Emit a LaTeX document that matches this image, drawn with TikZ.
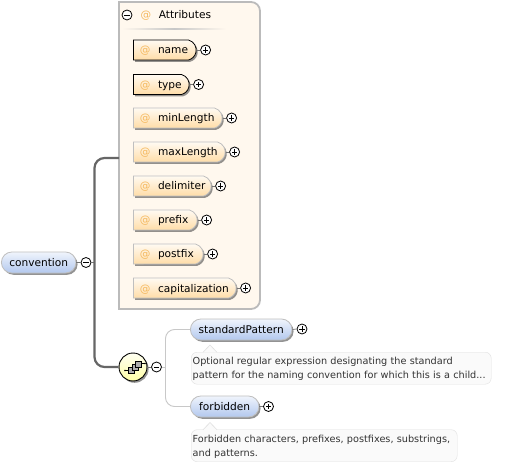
\documentclass[tikz,border=0pt]{standalone}
\usepackage{fontspec}
\setmainfont{DejaVu Sans}
\usetikzlibrary{shapes.misc,shadows,calc}
\definecolor{atcol}{HTML}{F5B95F}
\definecolor{panelfill}{HTML}{FFF8EE}
\definecolor{panelline}{HTML}{BBBBBB}
\definecolor{spinecol}{HTML}{666666}
\definecolor{thincol}{HTML}{C8C8C8}
\definecolor{attrtop}{HTML}{FFFAF2}
\definecolor{attrbot}{HTML}{FFDDA8}
\definecolor{elemtop}{HTML}{F0F4FC}
\definecolor{elembot}{HTML}{B2C8EE}
\tikzset{
  x=1pt,y=-1pt,
  shadowed/.style={drop shadow={shadow xshift=1.6pt,shadow yshift=-1.8pt,opacity=.6,fill=black!70}},
  attrbase/.style={rounded rectangle,rounded rectangle left arc=none,rounded rectangle arc length=150,
     anchor=west,inner xsep=0pt,inner ysep=0pt,minimum height=20pt,text height=8pt,text depth=0pt,
     top color=attrtop,bottom color=attrbot,
     font=\fontsize{10.6}{12}\selectfont,shadowed},
  attropt/.style={attrbase,draw=black!25,line width=.8pt},
  attrreq/.style={attrbase,draw=black,line width=.8pt},
  elem/.style={rounded rectangle,anchor=west,inner xsep=0pt,inner ysep=0pt,minimum height=21pt,
     text height=8pt,text depth=0pt,
     draw=black!25,line width=.8pt,top color=elemtop,bottom color=elembot,
     font=\fontsize{10.6}{12}\selectfont,shadowed},
  expbase/.style={circle,draw=black,fill=white,line width=.8pt,minimum size=10pt,inner sep=0pt},
  plusexp/.style={expbase,path picture={
     \draw[line width=.6pt] ($(path picture bounding box.center)+(-2.7,0)$) -- ++(5.4,0);
     \draw[line width=.6pt] ($(path picture bounding box.center)+(0,-2.7)$) -- ++(0,5.4);}},
  minusexp/.style={expbase,path picture={
     \draw[line width=.6pt] ($(path picture bounding box.center)+(-2.7,0)$) -- ++(5.4,0);}},
  link/.style={draw=black!55,line width=.7pt},
  spine/.style={draw=spinecol,line width=2.2pt,rounded corners=10pt},
  thinline/.style={draw=thincol,line width=.9pt,rounded corners=9pt},
  docbox/.style={rectangle,rounded corners=6pt,draw=black!12,fill=black!2,anchor=north west,
     inner xsep=1.5pt,inner ysep=0pt,align=left,minimum height=32pt,
     font=\fontsize{9.7}{14}\selectfont,text=black!80},
  pointer/.style={draw=black!12,fill=black!2,line width=.6pt},
  squareicon/.style={draw=black,fill=black!32,line width=.5pt},
}
\newcommand{\attrnode}[5]{%
  \node[#1] (#2) at (133,#3) {\makebox[#4pt][l]{\hspace{6.5pt}\textcolor{atcol}{@}\hspace{7.5pt}#5}};
  \node[plusexp] (#2-x) at ($(#2.east)+(9,0)$) {};
  \draw[link] (#2.east) -- (#2-x.west);}
\begin{document}
\begin{tikzpicture}
\useasboundingbox (0,0) rectangle (514,465);
\fill[white] (0,0) rectangle (514,465);

% attribute panel
\draw[draw=panelline,fill=panelfill,line width=1.8pt]
  (119,2) [rounded corners=9pt] -- (260,2) -- (260,309) [sharp corners] -- (119,309) -- cycle;
\coordinate (panelw) at (119,158);

\node[minusexp] (attrs-x) at (127,15) {};
\node[anchor=west,inner sep=0pt,font=\fontsize{10.6}{12}\selectfont,text height=8pt,text depth=0pt] (attrs) at (140.5,15)
  {\textcolor{atcol}{@}\hspace{7.5pt}Attributes};
\shade[left color=panelfill,right color=panelfill,middle color=black!22] (122,28.3) rectangle (226,30);

\attrnode{attrreq}{name}{50}{62}{name}
\attrnode{attrreq}{type}{84.5}{55}{type}
\attrnode{attropt}{minLength}{118}{88}{minLength}
\attrnode{attropt}{maxLength}{152}{91}{maxLength}
\attrnode{attropt}{delimiter}{186}{77}{delimiter}
\attrnode{attropt}{prefix}{220}{63}{prefix}
\attrnode{attropt}{postfix}{254}{69}{postfix}
\attrnode{attropt}{capitalization}{288}{102}{capitalization}

% root
\node[elem] (convention) at (1,262.5) {\makebox[73pt]{convention}};
\node[minusexp] (conv-x) at (86,262.5) {};
\draw[link] (convention.east) -- (conv-x.west);

% sequence compositor
\node[circle,draw=black,line width=.9pt,minimum size=28pt,inner sep=0pt,
  top color=yellow!5!white,bottom color=yellow!35!white,shadowed] (seq) at (133,367) {};
\draw[line width=.6pt] (125,370.5) -- (129,370.5);
\draw[line width=.6pt] (140,363.5) -- (145,363.5);
\fill (125,370.5) circle (.9);
\fill (145,363.5) circle (.9);
\draw[squareicon] (127.8,367.5) rectangle (133.8,373.5);
\draw[squareicon] (132,363.8) rectangle (138,369.8);
\draw[squareicon] (135.3,361) rectangle (141,367);
\node[minusexp] (seq-x) at (156.5,367) {};
\draw[link] (seq) -- (seq-x);

% thick connectors
\coordinate (spinejoin) at (94.5,262.5);
\draw[link] (conv-x.east) -- (spinejoin);
\draw[spine] (panelw) -- (94.5,158) -- (94.5,367) -- (seq.west);

% child elements
\node[elem] (standardPattern) at (190,329.5) {\makebox[100pt]{standardPattern}};
\node[plusexp] (standardPattern-x) at (302,329) {};
\draw[link] (standardPattern.east) -- (standardPattern-x.west);
\node[elem] (forbidden) at (190,406.5) {\makebox[67pt]{forbidden}};
\node[plusexp] (forbidden-x) at (268.5,406.5) {};
\draw[link] (forbidden.east) -- (forbidden-x.west);

\coordinate (seqjoin) at (165.5,367);
\draw[thinline] (seq-x.east) -- (seqjoin);
\draw[thinline] (standardPattern.west) -- (165.5,329.5) -- (165.5,406.5) -- (forbidden.west);

% documentation
\node[docbox,text width=297pt,text height=9pt] (stddoc) at (191,352)
  {Optional regular expression designating the standard\\pattern for the naming convention for which this is a child...};
\node[docbox,text width=263pt,text height=9pt] (forbdoc) at (191,429.5)
  {Forbidden characters, prefixes, postfixes, substrings,\\and patterns.};
\draw[pointer] (203,352.3) -- (210,345) -- (217,352.3);
\draw[pointer] (203,429.8) -- (210,422.5) -- (217,429.8);
\end{tikzpicture}
\end{document}
